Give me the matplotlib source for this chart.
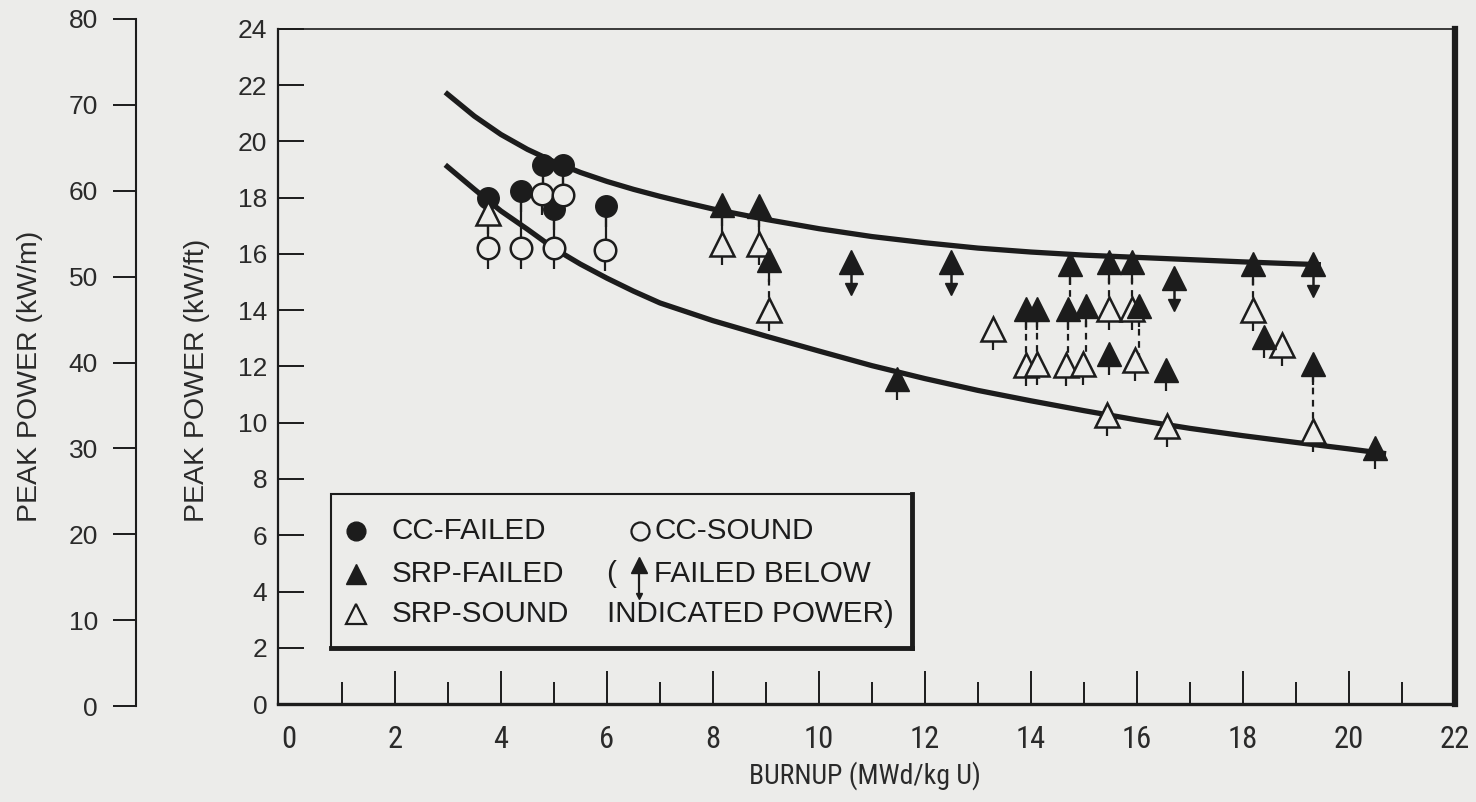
import matplotlib
matplotlib.use('Agg')
import matplotlib.pyplot as plt
from matplotlib import font_manager
from matplotlib.font_manager import FontProperties
from matplotlib.patches import Rectangle
from matplotlib.lines import Line2D

# ---------------- data ----------------
upper_x = [2.95, 3.5, 4.0, 4.5, 5.0, 5.5, 6.0, 6.5, 7.0, 7.5, 8.0, 9.0, 10.0,
           11.0, 12.0, 13.0, 14.0, 15.0, 16.0, 17.0, 18.0, 19.0, 19.47]
upper_y = [21.75, 20.90, 20.25, 19.72, 19.28, 18.90, 18.58, 18.30, 18.05, 17.82,
           17.60, 17.23, 16.90, 16.62, 16.40, 16.21, 16.07, 15.96, 15.88, 15.80,
           15.72, 15.65, 15.62]
lower_x = [2.95, 3.5, 4.0, 4.5, 5.0, 5.5, 6.0, 6.5, 7.0, 8.0, 9.0, 10.0, 11.0,
           12.0, 13.0, 14.0, 15.0, 16.0, 17.0, 18.0, 19.0, 20.0, 20.7]
lower_y = [19.17, 18.30, 17.53, 16.88, 16.20, 15.64, 15.14, 14.68, 14.26, 13.63,
           13.08, 12.55, 12.03, 11.57, 11.15, 10.78, 10.43, 10.10, 9.80, 9.54,
           9.30, 9.07, 8.90]

cc_failed_x = [3.75, 4.37, 4.80, 5.17, 5.00, 5.98]
cc_failed_y = [18.00, 18.25, 19.15, 19.15, 17.60, 17.70]
cc_sound_x = [4.78, 5.17, 3.76, 4.37, 5.00, 5.97]
cc_sound_y = [18.15, 18.10, 16.20, 16.20, 16.20, 16.15]

srp_failed_x = [8.17, 8.87, 9.05, 11.47, 13.90, 14.11, 14.73, 14.70, 15.03,
                15.47, 15.90, 16.03, 18.18, 18.40, 19.32, 15.47, 16.54, 20.50]
srp_failed_y = [17.75, 17.70, 15.77, 11.55, 14.03, 14.03, 15.65, 14.03, 14.15,
                15.71, 15.71, 14.15, 15.65, 13.05, 12.10, 12.46, 11.87, 9.10]
srp_below_x = [10.60, 12.50, 16.70, 19.33]
srp_below_y = [15.70, 15.70, 15.13, 15.65]
srp_sound_x = [3.76, 8.17, 8.87, 9.05, 13.29, 13.90, 14.11, 14.67, 14.98,
               15.47, 15.90, 18.18, 18.73, 19.32, 15.97, 15.43, 16.56]
srp_sound_y = [17.45, 16.35, 16.37, 14.00, 13.34, 12.06, 12.10, 12.06, 12.10,
               14.03, 14.03, 14.00, 12.75, 9.70, 12.23, 10.29, 9.90]

solid_link_x = [3.75, 4.37, 5.00, 5.98, 4.80, 5.17, 8.17, 8.87]
solid_link_top = [18.00, 18.25, 17.60, 17.70, 19.15, 19.15, 17.75, 17.70]
solid_link_bot = [16.20, 16.20, 16.20, 16.15, 18.15, 18.10, 16.35, 16.37]
dot_link_x = [9.05, 13.90, 14.11, 14.73, 14.70, 15.03, 15.47, 15.90, 16.03, 18.18, 19.32]
dot_link_top = [15.77, 14.03, 14.03, 15.65, 14.03, 14.15, 15.71, 15.71, 14.15, 15.65, 12.10]
dot_link_bot = [14.00, 12.06, 12.10, 14.03, 12.06, 12.10, 14.03, 14.03, 12.23, 14.00, 9.70]

x_ticks = list(range(0, 23, 2))
x_minor = list(range(1, 22, 2))
y_ticks = list(range(0, 25, 2))
y2_ticks = list(range(0, 81, 10))

legend_rows = [("CC-FAILED", "CC-SOUND"),
               ("SRP-FAILED", "FAILED BELOW"),
               ("SRP-SOUND", "INDICATED POWER)")]

# ---------------- fonts ----------------
names = {f.name for f in font_manager.fontManager.ttflist}
BASE = 'Liberation Sans' if 'Liberation Sans' in names else 'DejaVu Sans'

def find_narrow():
    files = [f.fname for f in font_manager.fontManager.ttflist]
    for key in ['LiberationSansNarrow-Regular', 'RobotoCondensed-Regular',
                'OpenSans_Condensed-Regular', 'DejaVuSansCondensed.ttf']:
        for fn in files:
            if key in fn:
                return FontProperties(fname=fn)
    return None

NARROW = find_narrow()

BG = '#ececea'
INK = '#1c1c1c'
TXT = '#2a2a2a'

fig = plt.figure(figsize=(14.76, 8.02), dpi=100)
fig.patch.set_facecolor(BG)

ax = fig.add_axes([278.3 / 1476, 1 - 704 / 802, (1455 - 278.3) / 1476, (704 - 29) / 802])
ax.set_facecolor(BG)
ax.set_xlim(-0.2, 22)
ax.set_ylim(0, 24)

# ticks
ax.set_xticks(x_ticks)
ax.set_xticks(x_minor, minor=True)
ax.set_yticks(y_ticks)
ax.tick_params(axis='x', which='major', direction='in', length=24, width=1.4,
               pad=15, colors=INK, labelcolor=TXT)
ax.tick_params(axis='x', which='minor', direction='in', length=16, width=1.4, colors=INK)
ax.tick_params(axis='y', which='major', direction='in', length=19, width=1.4,
               pad=8, colors=INK, labelcolor=TXT, labelsize=19)
ax.xaxis.get_major_ticks()[0].tick1line.set_visible(False)
for lab in ax.get_yticklabels():
    lab.set_family(BASE)
for lab in ax.get_xticklabels():
    if NARROW is not None:
        lab.set_fontproperties(NARROW)
        lab.set_fontsize(22)
    else:
        lab.set_family(BASE)
        lab.set_fontsize(18)

ax.spines['left'].set_linewidth(1.6)
ax.spines['top'].set_linewidth(1.2)
ax.spines['bottom'].set_linewidth(2.4)
ax.spines['right'].set_linewidth(4.5)
for s in ax.spines.values():
    s.set_color(INK)

# curves
ax.plot(upper_x, upper_y, color=INK, lw=3.8, zorder=2, solid_capstyle='butt',
        solid_joinstyle='round')
ax.plot(lower_x, lower_y, color=INK, lw=3.8, zorder=2, solid_capstyle='butt',
        solid_joinstyle='round')

# links and stems
ax.vlines(solid_link_x, solid_link_bot, solid_link_top, colors=INK, lw=1.6, zorder=3)
ax.vlines(dot_link_x, dot_link_bot, dot_link_top, colors=INK, lw=1.6,
          linestyles=(0, (3, 2.5)), zorder=3)
STEM = 0.75
stem_x = cc_sound_x + srp_sound_x + srp_failed_x + cc_failed_x
stem_y = cc_sound_y + srp_sound_y + srp_failed_y + cc_failed_y
ax.vlines(stem_x, [y - STEM for y in stem_y], stem_y, colors=INK, lw=1.6, zorder=3)

# failed-below arrows
ARR = 0.95
ax.vlines(srp_below_x, [y - ARR for y in srp_below_y], srp_below_y, colors=INK, lw=1.8, zorder=3)
ax.plot(srp_below_x, [y - ARR for y in srp_below_y], linestyle='none', marker='v',
        ms=8, color=INK, zorder=4)

# markers
ax.plot(cc_failed_x, cc_failed_y, linestyle='none', marker='o', ms=15.5,
        mfc=INK, mec=INK, zorder=5)
ax.plot(cc_sound_x, cc_sound_y, linestyle='none', marker='o', ms=15.5,
        mfc=BG, mec=INK, mew=1.8, zorder=5)
ax.plot(srp_sound_x, srp_sound_y, linestyle='none', marker='^', ms=17,
        mfc=BG, mec=INK, mew=1.8, zorder=5)
ax.plot(srp_failed_x, srp_failed_y, linestyle='none', marker='^', ms=17,
        mfc=INK, mec=INK, zorder=6)
ax.plot(srp_below_x, srp_below_y, linestyle='none', marker='^', ms=17,
        mfc=INK, mec=INK, zorder=6)

# legend box (axes fraction)
T = ax.transAxes
lx0, ly0, lx1, ly1 = 0.0448, 0.0835, 0.5385, 0.3116
ax.add_patch(Rectangle((lx0, ly0), lx1 - lx0, ly1 - ly0, transform=T,
                       facecolor=BG, edgecolor=INK, lw=1.5, zorder=8))
ax.add_line(Line2D([lx0, lx1], [ly0, ly0], transform=T, color=INK, lw=3.5, zorder=9))
ax.add_line(Line2D([lx1, lx1], [ly0, ly1], transform=T, color=INK, lw=3.5, zorder=9))

rows_y = [0.2556, 0.1933, 0.1340]
mx1, tx1, mx2, tx2, px = 0.0660, 0.0960, 0.3063, 0.3193, 0.2790
fs = 21.3
kw = dict(transform=T, fontsize=fs, family=BASE, color=INK, va='center', ha='left', zorder=10)
ax.plot([mx1], [rows_y[0]], transform=T, marker='o', ms=13.5, mfc=INK, mec=INK, zorder=10)
ax.plot([mx1], [rows_y[1]], transform=T, marker='^', ms=14.5, mfc=INK, mec=INK, zorder=10)
ax.plot([mx1], [rows_y[2]], transform=T, marker='^', ms=14.5, mfc=BG, mec=INK, mew=1.6, zorder=10)
ax.plot([mx2 + 0.001], [rows_y[0]], transform=T, marker='o', ms=13, mfc=BG, mec=INK, mew=1.6, zorder=10)
ax.text(tx1, rows_y[0], legend_rows[0][0], **kw)
ax.text(tx1, rows_y[1], legend_rows[1][0], **kw)
ax.text(tx1, rows_y[2], legend_rows[2][0], **kw)
ax.text(tx2, rows_y[0], legend_rows[0][1], **kw)
ax.text(px, rows_y[1], "(", **kw)
ax.text(tx2, rows_y[1], legend_rows[1][1], **kw)
ax.text(px, rows_y[2], legend_rows[2][1], **kw)
# arrow icon
ay = rows_y[1] + 0.012
ax.add_line(Line2D([mx2, mx2], [ay, ay - 0.045], transform=T, color=INK, lw=1.6, zorder=10))
ax.plot([mx2], [ay], transform=T, marker='^', ms=11, mfc=INK, mec=INK, zorder=11)
ax.plot([mx2], [ay - 0.045], transform=T, marker='v', ms=5, mfc=INK, mec=INK, zorder=11)

# outer kW/m axis
ax2 = fig.add_axes([136 / 1476, (802 - 706) / 802, 0.0004, 687 / 802])
ax2.patch.set_visible(False)
ax2.set_ylim(0, 80)
ax2.set_yticks(y2_ticks)
ax2.set_xticks([])
for s in ['top', 'bottom', 'right']:
    ax2.spines[s].set_visible(False)
ax2.spines['left'].set_linewidth(1.5)
ax2.spines['left'].set_color(INK)
ax2.tick_params(axis='y', direction='out', length=16.5, width=1.4, pad=11,
                colors=INK, labelcolor=TXT, labelsize=19)
for lab in ax2.get_yticklabels():
    lab.set_family(BASE)

# axis labels
fig.text(197 / 1476, 1 - 522 / 802, 'PEAK POWER (kW/ft)', rotation=90, ha='center',
         va='bottom', fontsize=20.5, family=BASE, color=TXT)
fig.text(30 / 1476, 1 - 522 / 802, 'PEAK POWER (kW/m)', rotation=90, ha='center',
         va='bottom', fontsize=20.5, family=BASE, color=TXT)
if NARROW is not None:
    fig.text(865 / 1476, 1 - 776 / 802, 'BURNUP (MWd/kg U)', ha='center', va='center',
             fontproperties=NARROW, fontsize=20, color=TXT)
else:
    fig.text(865 / 1476, 1 - 776 / 802, 'BURNUP (MWd/kg U)', ha='center', va='center',
             fontsize=17, family=BASE, color=TXT)

fig.savefig('out.png', dpi=100, facecolor=BG)
